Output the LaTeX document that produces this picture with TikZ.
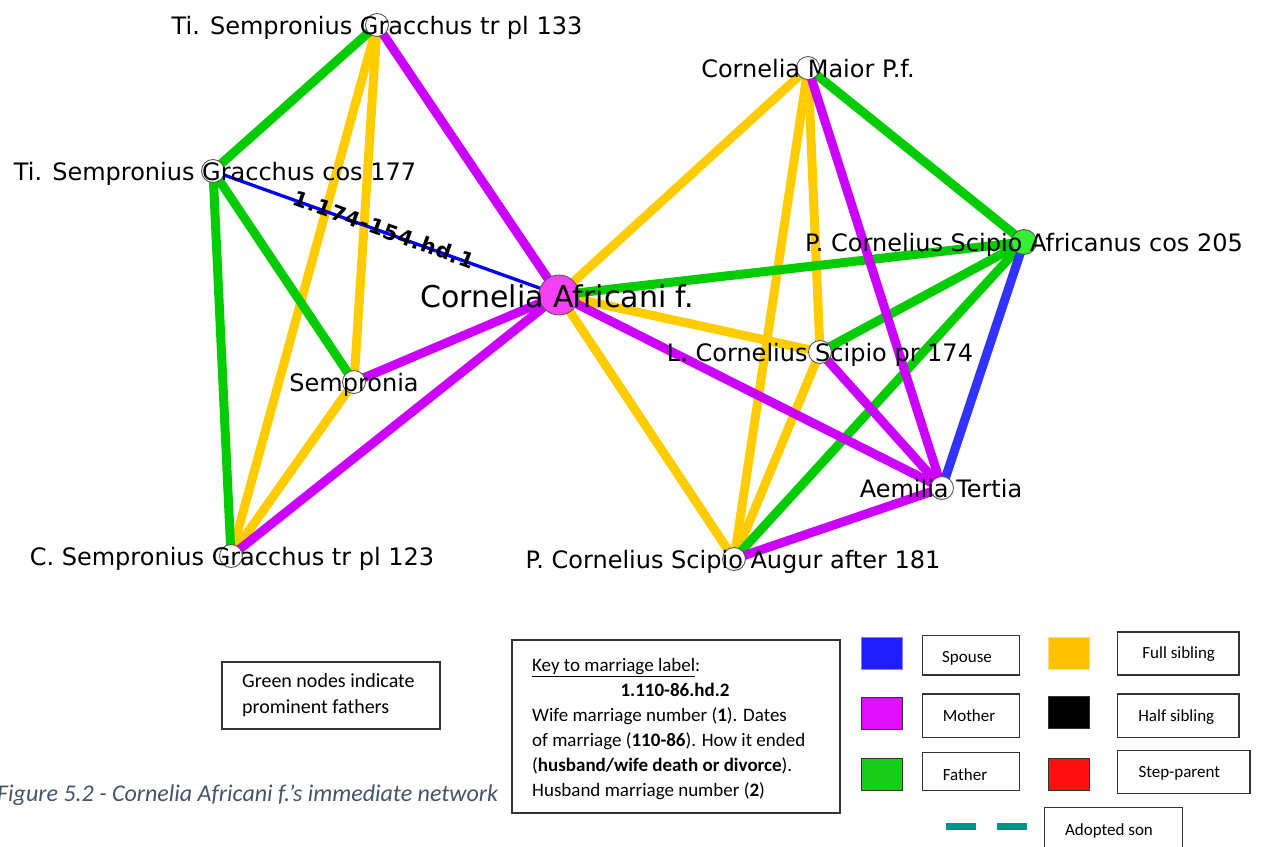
\documentclass[tikz,border=0pt]{standalone}
\usepackage{fontspec}
\setmainfont{DejaVu Sans}
\newfontfamily\keyfont{Carlito}
\newfontfamily\wedfont[LetterSpace=4]{DejaVu Sans}
\usetikzlibrary{backgrounds}

% relation colours
\definecolor{relgreen}{RGB}{0,204,0}
\definecolor{relyellow}{RGB}{255,204,0}
\definecolor{relmagenta}{RGB}{204,0,255}
\definecolor{relblue}{RGB}{0,0,255}
\definecolor{relbluewide}{RGB}{51,51,255}
% node fills
\definecolor{centrefill}{RGB}{245,64,245}
\definecolor{fatherfill}{RGB}{51,238,51}
% key swatches
\definecolor{keyblue}{RGB}{30,30,255}
\definecolor{keyblueedge}{RGB}{130,130,255}
\definecolor{keyyellow}{RGB}{255,192,0}
\definecolor{keyyellowedge}{RGB}{255,220,120}
\definecolor{keymagenta}{RGB}{221,17,255}
\definecolor{keygreen}{RGB}{24,204,24}
\definecolor{keyred}{RGB}{255,16,16}
\definecolor{keyteal}{RGB}{0,145,140}
\definecolor{captiongrey}{RGB}{68,84,106}

\begin{document}
\begin{tikzpicture}[x=1pt,y=-1pt,
  person/.style={circle, draw=black!65, line width=0.9pt, fill=white,
    minimum size=23pt, inner sep=0pt},
  centre/.style={person, fill=centrefill, minimum size=40pt},
  prominent/.style={person, fill=fatherfill, minimum size=25pt},
  pname/.style={font=\fontsize{24}{28}\selectfont, inner sep=0pt, anchor=base},
  bigname/.style={font=\fontsize{30}{34}\selectfont, inner sep=0pt, anchor=base},
  rel/.style={line width=9pt},
  father/.style={rel, draw=relgreen},
  mother/.style={rel, draw=relmagenta},
  sibling/.style={rel, draw=relyellow},
  spouse/.style={rel, draw=relbluewide},
  spousethin/.style={line width=3.3pt, draw=relblue},
  marriage/.style={font=\wedfont\bfseries\fontsize{21}{24}\selectfont,
    inner sep=0pt, text=black},
  keybox/.style={draw=black!80, line width=1.2pt, fill=white, inner sep=0pt},
  swatch/.style={draw=black!80, line width=1pt, inner sep=0pt,
    minimum width=40.6pt, minimum height=32pt},
  keytext/.style={font=\keyfont\fontsize{19}{25}\selectfont, inner sep=0pt},
  notetext/.style={font=\keyfont\fontsize{20}{26}\selectfont, inner sep=0pt},
  legtext/.style={font=\keyfont\fontsize{17}{20}\selectfont, inner sep=0pt, anchor=base},
]
\useasboundingbox (0,0) rectangle (1263,846);

% ---------- people ----------
\node[person]    (t133) at (377,25)  {};
\node[person]    (t177) at (213,171) {};
\node[person]    (semp) at (354,382) {};
\node[person]    (c123) at (231,556) {};
\node[centre]    (corn) at (559,295) {};
\node[person]    (maior) at (808,68) {};
\node[prominent] (afr)  at (1024,242) {};
\node[person]    (lsc)  at (820,352) {};
\node[person]    (aem)  at (942,488) {};
\node[person]    (aug)  at (734,559) {};

% ---------- names ----------
\node[pname]   (t133-n)  at (377,34.5)  {Ti. Sempronius Gracchus tr pl 133};
\node[pname]   (t177-n)  at (215,180.5) {Ti. Sempronius Gracchus cos 177};
\node[pname]   (semp-n)  at (354,391.5) {Sempronia};
\node[pname]   (c123-n)  at (232,565.5) {C. Sempronius Gracchus tr pl 123};
\node[bigname] (corn-n)  at (557,307)   {Cornelia Africani f.};
\node[pname]   (maior-n) at (808,77.5)  {Cornelia Maior P.f.};
\node[pname]   (afr-n)   at (1024,251.5) {P. Cornelius Scipio Africanus cos 205};
\node[pname]   (lsc-n)   at (820,361.5) {L. Cornelius Scipio pr 174};
\node[pname]   (aem-n)   at (941,497.5) {Aemilia Tertia};
\node[pname]   (aug-n)   at (733,568.5) {P. Cornelius Scipio Augur after 181};

% ---------- relations ----------
\begin{scope}[on background layer]
  % Gracchi
  \draw[sibling] (t133.center) -- (c123.center);
  \draw[sibling] (t133.center) -- (semp.center);
  \draw[sibling] (semp.center) -- (c123.center);
  \draw[father]  (t177.center) -- (t133.center);
  \draw[father]  (t177.center) -- (semp.center);
  \draw[father]  (t177.center) -- (c123.center);
  \draw[mother]  (corn.center) -- (t133.center);
  \draw[mother]  (corn.center) -- (semp.center);
  \draw[mother]  (corn.center) -- (c123.center);
  % Scipiones
  \draw[sibling] (corn.center) -- (maior.center);
  \draw[sibling] (corn.center) -- (lsc.center);
  \draw[sibling] (corn.center) -- (aug.center);
  \draw[sibling] (maior.center) -- (lsc.center);
  \draw[sibling] (maior.center) -- (aug.center);
  \draw[sibling] (lsc.center) -- (aug.center);
  \draw[father]  (afr.center) -- (corn.center);
  \draw[father]  (afr.center) -- (maior.center);
  \draw[father]  (afr.center) -- (lsc.center);
  \draw[father]  (afr.center) -- (aug.center);
  \draw[mother]  (aem.center) -- (corn.center);
  \draw[mother]  (aem.center) -- (maior.center);
  \draw[mother]  (aem.center) -- (lsc.center);
  \draw[mother]  (aem.center) -- (aug.center);
  \draw[spouse]  (afr.center) -- (aem.center);
  % marriage of Cornelia
  \draw[spousethin] (t177.center) -- (corn.center);
\end{scope}
\node[marriage, rotate=-19.71] (wed) at (384,229.5) {1.174-154.hd.1};

% ---------- note ----------
\node[keybox, minimum width=218pt, minimum height=67pt] (notebox) at (331,695.5) {};
\node[notetext, anchor=base west] (note1) at (242,687.5) {Green nodes indicate};
\node[notetext, anchor=base west] (note2) at (242,713.5) {prominent fathers};

% ---------- key to marriage label ----------
\node[keybox, minimum width=328pt, minimum height=173pt] (keylbl) at (676,726.5) {};
\node[keytext, anchor=base west] (kl1) at (532,671.5) {\underline{Key to marriage label}:};
\node[keytext, anchor=base]      (kl2) at (675,696)   {\bfseries 1.110-86.hd.2};
\node[keytext, anchor=base west] (kl3) at (532,721)   {Wife marriage number (\textbf{1}). Dates};
\node[keytext, anchor=base west] (kl4) at (532,746)   {of marriage (\textbf{110-86}). How it ended};
\node[keytext, anchor=base west] (kl5) at (532,771)   {(\textbf{husband/wife death or divorce}).};
\node[keytext, anchor=base west] (kl6) at (532,796)   {Husband marriage number (\textbf{2})};

% ---------- relation key ----------
\node[swatch, fill=keyblue, draw=keyblueedge] (sw-sp) at (882,653.3) {};
\node[swatch, fill=keyyellow, draw=keyyellowedge] (sw-fs) at (1068.7,653.3) {};
\node[swatch, fill=keymagenta] (sw-mo) at (882,713.8) {};
\node[swatch, fill=black] (sw-hs) at (1068.7,712) {};
\node[swatch, fill=keygreen] (sw-fa) at (882,774.2) {};
\node[swatch, fill=keyred] (sw-st) at (1068.7,774.2) {};

\node[keybox, minimum width=97.4pt, minimum height=39.7pt] (b-sp) at (971,655.2) {};
\node[keybox, minimum width=121.3pt, minimum height=43pt] (b-fs) at (1178.3,653.5) {};
\node[keybox, minimum width=97.4pt, minimum height=43.3pt] (b-mo) at (971,715.7) {};
\node[keybox, minimum width=121.3pt, minimum height=43.3pt] (b-hs) at (1178.3,715.7) {};
\node[keybox, minimum width=97.4pt, minimum height=38pt] (b-fa) at (971,771.3) {};
\node[keybox, minimum width=132.3pt, minimum height=43.4pt] (b-st) at (1183.8,772) {};
\node[keybox, minimum width=137.6pt, minimum height=52.7pt] (b-ad) at (1113.5,833.7) {};

\node[legtext] (t-sp) at (967,662)      {Spouse};
\node[legtext] (t-fs) at (1178.7,658.3) {Full sibling};
\node[legtext] (t-mo) at (969,721)      {Mother};
\node[legtext] (t-hs) at (1176.3,721)   {Half sibling};
\node[legtext] (t-fa) at (965,780)      {Father};
\node[legtext] (t-st) at (1179.3,777.7) {Step-parent};
\node[legtext] (t-ad) at (1109,835)     {Adopted son};

\coordinate (ad-a) at (946,826.5);
\coordinate (ad-b) at (1027,826.5);
\draw[keyteal, line width=7.3pt, dash pattern=on 29.5pt off 21.5pt] (ad-a) -- (ad-b);

% ---------- caption ----------
\node[anchor=base west, inner sep=0pt, text=captiongrey,
  font=\keyfont\itshape\fontsize{24}{28}\selectfont] (caption) at (-3,801.5)
  {Figure 5.2 - Cornelia Africani f.’s immediate network};
\end{tikzpicture}
\end{document}
